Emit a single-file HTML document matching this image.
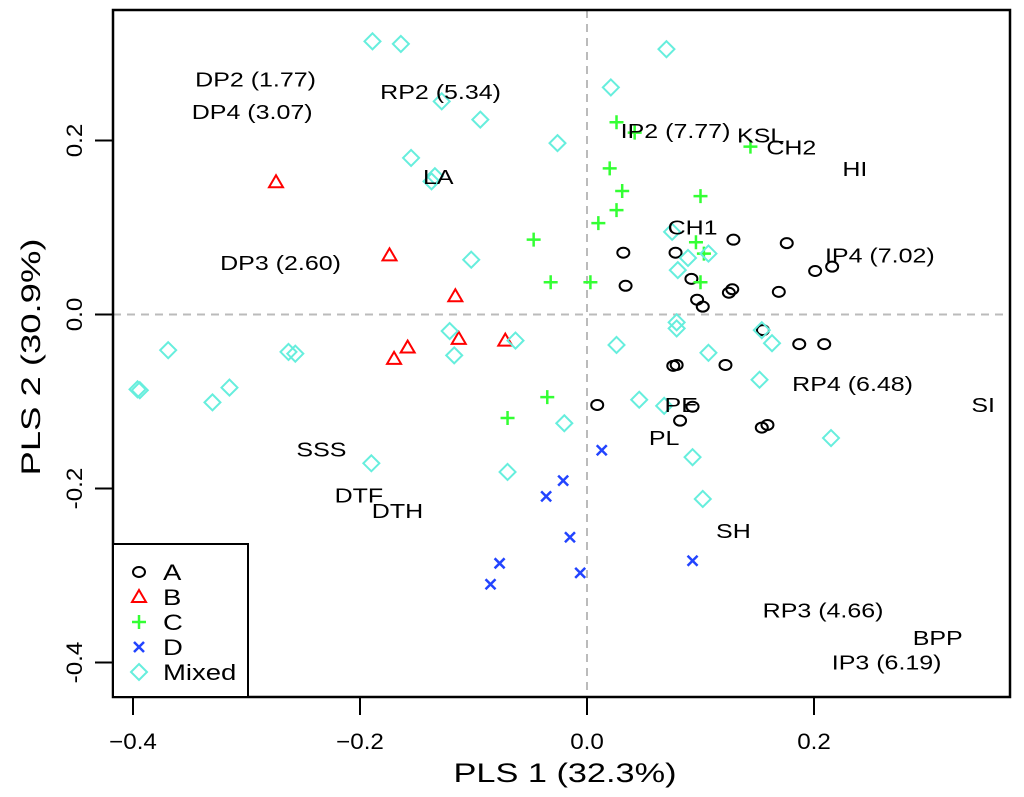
<!DOCTYPE html>
<html><head><meta charset="utf-8"><style>
body{margin:0;background:#fff}
svg{display:block;font-family:"Liberation Sans",Arial,sans-serif}
</style></head><body>
<svg id="chart" width="1024" height="797" viewBox="0 0 1024 797" xmlns="http://www.w3.org/2000/svg">
<g id="grid"></g>
<g id="marks"></g>
<g id="labels"></g>
<rect x="113" y="10" width="897" height="687" fill="none" stroke="#000" stroke-width="2.5"/>
<g id="axes"></g>
<text transform="translate(565,782) scale(1.27,1)" font-size="27" text-anchor="middle">PLS 1 (32.3%)</text>
<text transform="translate(40,357) rotate(-90) scale(1.35,1)" font-size="27" text-anchor="middle">PLS 2 (30.9%)</text>
<g id="legend"></g>
</svg>
<script>
const xA=[0.032,0.034,0.078,0.092,0.097,0.102,0.129,0.125,0.128,0.169,0.176,0.201,0.216,0.155,0.187,0.209,0.076,0.079,0.122,0.009,0.093,0.082,0.154,0.159];
const yA=[0.071,0.033,0.071,0.041,0.017,0.009,0.086,0.025,0.029,0.026,0.082,0.050,0.055,-0.018,-0.034,-0.034,-0.059,-0.058,-0.058,-0.104,-0.106,-0.122,-0.130,-0.127];
const xB=[-0.274,-0.174,-0.116,-0.113,-0.072,-0.158,-0.170];
const yB=[0.152,0.068,0.021,-0.028,-0.030,-0.038,-0.051];
const xC=[0.026,0.042,0.144,0.020,0.031,0.026,0.100,0.010,-0.047,0.096,0.103,-0.032,0.003,0.100,-0.035,-0.070];
const yC=[0.221,0.209,0.193,0.168,0.142,0.120,0.136,0.105,0.086,0.083,0.070,0.037,0.037,0.037,-0.095,-0.119];
const xD=[0.013,-0.021,-0.036,-0.015,-0.077,-0.085,-0.006,0.093];
const yD=[-0.156,-0.191,-0.209,-0.256,-0.286,-0.310,-0.297,-0.283];
const xM=[-0.189,-0.164,0.070,0.021,-0.128,-0.094,-0.026,-0.155,-0.134,-0.137,-0.102,0.075,0.089,0.080,0.107,0.079,0.079,-0.121,-0.063,-0.117,0.026,0.107,0.154,0.163,0.152,-0.369,-0.263,-0.257,-0.396,-0.394,-0.315,-0.330,0.046,0.068,-0.020,0.215,-0.190,-0.070,0.093,0.102];
const yM=[0.314,0.311,0.305,0.261,0.245,0.224,0.197,0.180,0.159,0.153,0.063,0.095,0.065,0.051,0.070,-0.009,-0.016,-0.019,-0.030,-0.047,-0.035,-0.044,-0.018,-0.033,-0.075,-0.041,-0.043,-0.045,-0.086,-0.087,-0.084,-0.101,-0.098,-0.105,-0.125,-0.142,-0.171,-0.181,-0.164,-0.212];
const xTicks=[-0.4,-0.2,0.0,0.2];
const yTicks=[-0.4,-0.2,0.0,0.2];
const xTickLabels=["\u22120.4","\u22120.2","0.0","0.2"];
const yTickLabels=["-0.4","-0.2","0.0","0.2"];
const varNames=["DP2 (1.77)","DP4 (3.07)","RP2 (5.34)","LA","IP2 (7.77)","KSL","CH2","HI","CH1","IP4 (7.02)","DP3 (2.60)","RP4 (6.48)","PE","SI","PL","SSS","DTF","DTH","SH","RP3 (4.66)","BPP","IP3 (6.19)"];
const varX=[-0.292,-0.295,-0.129,-0.131,0.078,0.153,0.180,0.236,0.093,0.258,-0.270,0.234,0.083,0.349,0.068,-0.234,-0.201,-0.167,0.129,0.208,0.309,0.264];
const varY=[0.270,0.233,0.256,0.158,0.211,0.206,0.192,0.167,0.100,0.068,0.059,-0.080,-0.104,-0.104,-0.142,-0.155,-0.208,-0.226,-0.249,-0.340,-0.372,-0.400];

const NS="http://www.w3.org/2000/svg";
const X=v=>587+v*1135, Y=v=>314.5-v*870;
function mk(p,tag,at){const e=document.createElementNS(NS,tag);for(const k in at)e.setAttribute(k,at[k]);p.appendChild(e);return e;}
const g=document.getElementById('grid');
let l=mk(g,'line',{x1:X(0),x2:X(0),y1:10,y2:697,stroke:'#bbb','stroke-width':2,'stroke-dasharray':'8,6'});


l=mk(g,'line',{x1:113,x2:1010,y1:Y(0),y2:Y(0),stroke:'#bbb','stroke-width':2,'stroke-dasharray':'8,6'});


const ax=document.getElementById('axes');
xTicks.forEach((t,i)=>{
  const tk=mk(ax,'line',{x1:X(t),x2:X(t),y1:697,y2:715,stroke:'#000','stroke-width':2});
  
  
  const tx=mk(ax,'text',{transform:`translate(${X(t)},749) scale(1.1,1)`,'font-size':22,'text-anchor':'middle'});tx.textContent=xTickLabels[i];
  
  
});
yTicks.forEach((t,i)=>{
  const tk=mk(ax,'line',{x1:95,x2:113,y1:Y(t),y2:Y(t),stroke:'#000','stroke-width':2});
  
  
  const tx=mk(ax,'text',{transform:`translate(82,${Y(t)}) rotate(-90) scale(1.1,1)`,'font-size':22,'text-anchor':'middle'});tx.textContent=yTickLabels[i];
  
  
});
function sym(p,type,cx,cy){
  let e;
  if(type==='A') e=mk(p,'ellipse',{cx,cy,rx:6,ry:5,fill:'none',stroke:'#000','stroke-width':2});
  else if(type==='B') e=mk(p,'polygon',{points:`${cx},${cy-7} ${cx-7},${cy+5} ${cx+7},${cy+5}`,fill:'none',stroke:'#f00','stroke-width':2});
  else if(type==='C') e=mk(p,'path',{d:`M${cx-7},${cy}H${cx+7}M${cx},${cy-7}V${cy+7}`,stroke:'#3f3','stroke-width':2.5});
  else if(type==='D') e=mk(p,'path',{d:`M${cx-5},${cy-5}L${cx+5},${cy+5}M${cx-5},${cy+5}L${cx+5},${cy-5}`,stroke:'#2244ff','stroke-width':2.5});
  else e=mk(p,'polygon',{points:`${cx},${cy-8} ${cx+8},${cy} ${cx},${cy+8} ${cx-8},${cy}`,fill:'none',stroke:'#66eedd','stroke-width':2});
  return e;
}
const m=document.getElementById('marks');
[['A',xA,yA],['B',xB,yB],['C',xC,yC],['D',xD,yD],['Mixed',xM,yM]].forEach(([t,xs,ys])=>{
  xs.forEach((v,i)=>{
    const e=sym(m,t,X(v),Y(ys[i]));
    
    
  });
});
const lb=document.getElementById('labels');
varNames.forEach((n,i)=>{
  const e=mk(lb,'text',{transform:`translate(${X(varX[i])},${Y(varY[i])+7}) scale(1.25,1)`,'font-size':20,'text-anchor':'middle'});e.textContent=n;
  
  
});
const lg=document.getElementById('legend');
const box=mk(lg,'rect',{x:113,y:544,width:135,height:153,fill:'#fff',stroke:'#000','stroke-width':2});


['A','B','C','D','Mixed'].forEach((t,i)=>{
  const yy=572+i*25;
  const s=sym(lg,t,139,yy);
  
  
  const tx=mk(lg,'text',{transform:`translate(163,${yy+8}) scale(1.25,1)`,'font-size':22});tx.textContent=t;
  
  
});
</script>
</body></html>
